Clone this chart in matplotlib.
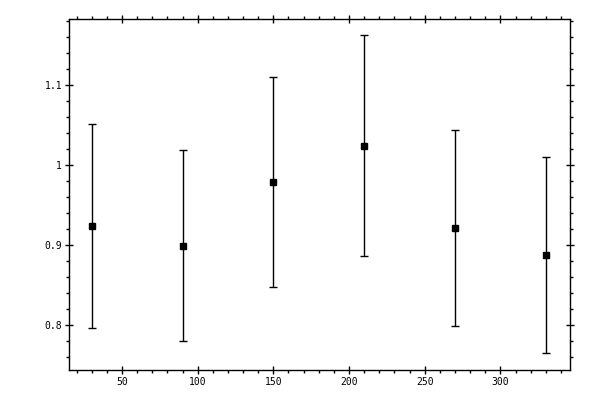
import numpy as np
import matplotlib
matplotlib.use("Agg")
import matplotlib.pyplot as plt
from matplotlib.ticker import MultipleLocator

# valeurs
x_vals = [30, 90, 150, 210, 270, 330]
y_vals = [0.924, 0.899, 0.979, 1.024, 0.921, 0.8875]
y_haut = [1.052, 1.019, 1.111, 1.1625, 1.044, 1.010]
y_bas = [0.796, 0.780, 0.847, 0.886, 0.799, 0.765]

err_bas = np.array(y_vals) - np.array(y_bas)
err_haut = np.array(y_haut) - np.array(y_vals)

fig = plt.figure(figsize=(6, 4), dpi=100)
ax = fig.add_axes([0.115, 0.075, 0.835, 0.8775])

ax.errorbar(x_vals, y_vals, yerr=[err_bas, err_haut], fmt='s', color='black',
            markersize=5, elinewidth=1, capsize=3, capthick=1)

ax.set_xlim(15, 346)
ax.set_ylim(0.7435, 1.183)

ax.xaxis.set_major_locator(MultipleLocator(50))
ax.xaxis.set_minor_locator(MultipleLocator(10))
ax.yaxis.set_major_locator(MultipleLocator(0.1))
ax.yaxis.set_minor_locator(MultipleLocator(0.02))
ax.yaxis.set_major_formatter(plt.FuncFormatter(lambda v, p: f"{v:g}"))

ax.tick_params(which='major', direction='inout', length=6, width=1,
               top=True, right=True, labelsize=7, pad=2)
ax.tick_params(which='minor', direction='out', length=2.5, width=1,
               top=True, right=True)
for lab in ax.get_xticklabels() + ax.get_yticklabels():
    lab.set_family('DejaVu Sans Mono')
for s in ax.spines.values():
    s.set_linewidth(1)

fig.savefig("out.png")
